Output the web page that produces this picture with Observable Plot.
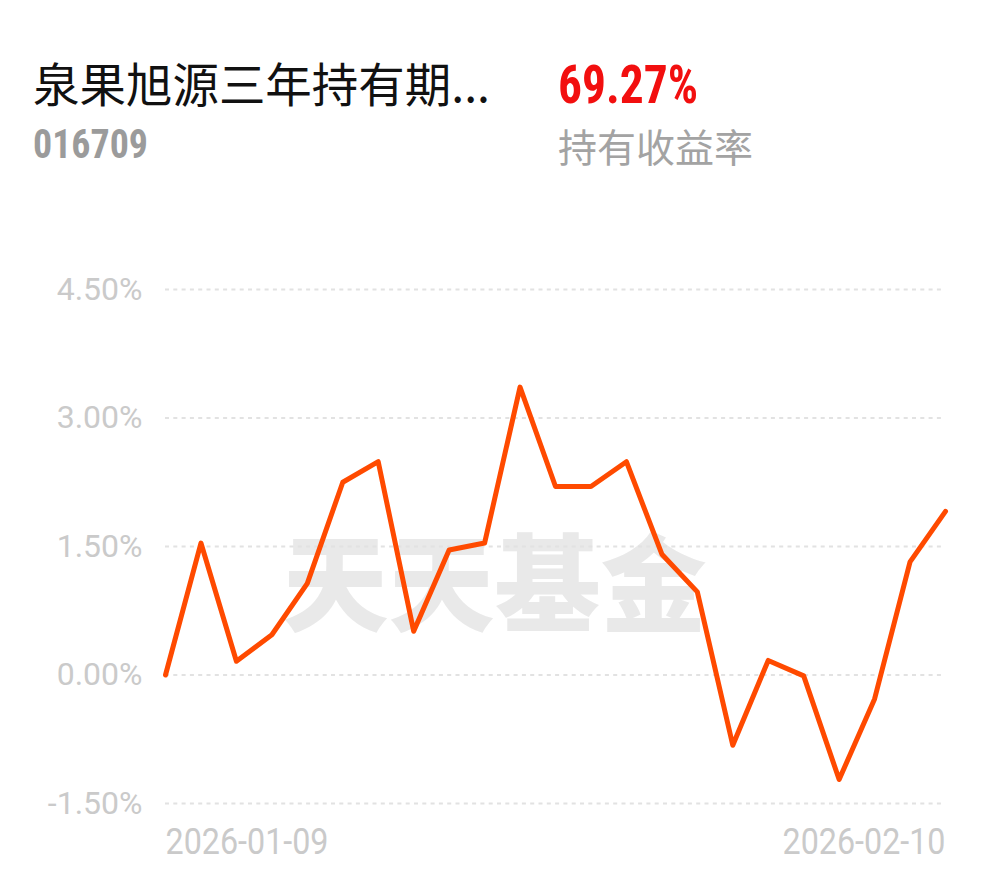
<!DOCTYPE html>
<html>
<head>
<meta charset="utf-8">
<script src="https://cdn.jsdelivr.net/npm/d3@7"></script>
<script src="https://cdn.jsdelivr.net/npm/@observablehq/plot@0.6"></script>
<style>
  html, body { margin: 0; padding: 0; background: #fff; }
  #wrap { position: relative; width: 990px; height: 878px; overflow: hidden; }
  #header { position: absolute; left: 0; top: 0; }
  #chart { position: absolute; left: 0; top: 200px; }
</style>
</head>
<body>
<div id="wrap">
  <svg id="header" width="990" height="200"></svg>
  <div id="chart"></div>
</div>
<script>
// ---- data ----
const fundName = "泉果旭源三年持有期...";
const fundCode = "016709";
const holdReturn = "69.27%";
const holdReturnLabel = "持有收益率";
const watermark = "天天基金";

const dates = [
  "2026-01-09",
  "2026-01-12", "2026-01-13", "2026-01-14", "2026-01-15", "2026-01-16",
  "2026-01-19", "2026-01-20", "2026-01-21", "2026-01-22", "2026-01-23",
  "2026-01-26", "2026-01-27", "2026-01-28", "2026-01-29", "2026-01-30",
  "2026-02-02", "2026-02-03", "2026-02-04", "2026-02-05", "2026-02-06",
  "2026-02-09", "2026-02-10"
];
const values = [
  0.00,
  1.54, 0.16, 0.47, 1.07, 2.25,
  2.49, 0.51, 1.46, 1.54, 3.36,
  2.20, 2.20, 2.49, 1.41, 0.97,
  -0.82, 0.17, -0.01, -1.22, -0.28,
  1.32, 1.91
];
const yTicks = [-1.5, 0, 1.5, 3, 4.5];
const xTickLabels = [dates[0], dates[dates.length - 1]];

const data = dates.map((d, i) => ({ date: d, value: values[i] }));

// ---- header ----
const ns = "http://www.w3.org/2000/svg";
const header = document.getElementById("header");
function addText(txt, x, y, attrs) {
  const t = document.createElementNS(ns, "text");
  t.setAttribute("x", x);
  t.setAttribute("y", y);
  for (const k in attrs) t.setAttribute(k, attrs[k]);
  t.textContent = txt;
  header.appendChild(t);
}
addText(fundName, 33, 102, {"font-family": "Noto Sans CJK SC", "font-size": 47, fill: "#111",
  textLength: 457, lengthAdjust: "spacingAndGlyphs"});
addText(fundCode, 33, 158, {"font-family": "Liberation Sans Narrow, Roboto Condensed, Roboto", "font-size": 40, "font-weight": "bold", fill: "#9b9b9b",
  textLength: 115, lengthAdjust: "spacingAndGlyphs"});
addText(holdReturn, 558, 103, {"font-family": "Liberation Sans Narrow, Roboto Condensed, Roboto", "font-size": 53, "font-weight": "bold", fill: "#f20f0f",
  textLength: 140, lengthAdjust: "spacingAndGlyphs"});
addText(holdReturnLabel, 558, 162, {"font-family": "Noto Sans CJK SC", "font-size": 39, fill: "#a3a3a3"});

// ---- chart ----
const chart = Plot.plot({
  width: 990,
  height: 678,
  marginTop: 89,
  marginBottom: 75,
  marginLeft: 165,
  marginRight: 45,
  style: { background: "#fff", fontFamily: "Roboto, sans-serif" },
  x: { type: "point", domain: dates, padding: 0, round: false },
  y: { domain: [-1.5, 4.5] },
  marks: [
    Plot.text([watermark], {
      frameAnchor: "middle", dx: -61, dy: 43,
      fontSize: 106, fontWeight: 900, fill: "#e9e9e9",
      fontFamily: "Noto Sans CJK SC"
    }),
    Plot.ruleY(yTicks, { stroke: "#e2e2e2", strokeWidth: 2, strokeDasharray: "4,4.3" }),
    Plot.axisY({
      ticks: yTicks, tickSize: 0, tickPadding: 23, label: null,
      tickFormat: d => d.toFixed(2) + "%",
      fontSize: 32, fill: "#cacaca", fontFamily: "Roboto"
    }),
    Plot.axisX({
      ticks: [xTickLabels[0]], tickSize: 0, tickPadding: 25, label: null,
      textAnchor: "start", fontSize: 36, fill: "#cacaca",
      fontFamily: "Roboto"
    }),
    Plot.axisX({
      ticks: [xTickLabels[1]], tickSize: 0, tickPadding: 25, label: null,
      textAnchor: "end", fontSize: 36, fill: "#cacaca",
      fontFamily: "Roboto"
    }),
    Plot.line(data, {
      x: "date", y: "value", stroke: "#ff4a00", strokeWidth: 5,
      strokeLinejoin: "round", strokeLinecap: "round"
    })
  ]
});
// condense the x tick labels to the narrow width of the reference
d3.select(chart).selectAll("g[aria-label='x-axis tick label'] text")
  .attr("textLength", 163).attr("lengthAdjust", "spacingAndGlyphs");
document.getElementById("chart").appendChild(chart);
</script>
</body>
</html>
